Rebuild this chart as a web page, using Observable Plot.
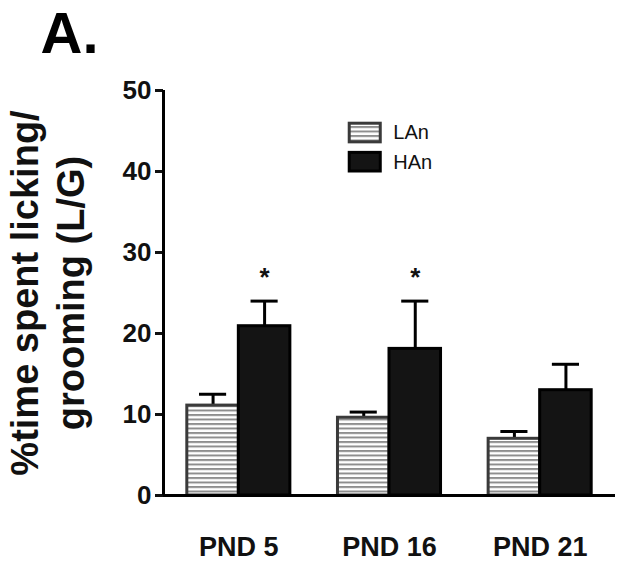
<!DOCTYPE html>
<html>
<head>
<meta charset="utf-8">
<script src="https://cdn.jsdelivr.net/npm/d3@7"></script>
<script src="https://cdn.jsdelivr.net/npm/@observablehq/plot@0.6"></script>
<style>
  html, body { margin: 0; padding: 0; background: #fff; }
</style>
</head>
<body>
<div id="chart"></div>
<script>
// ---- data ----
const groups = ["PND 5", "PND 16", "PND 21"];
const series = ["LAn", "HAn"];
const lanMean = [11.1, 9.6, 7.0];
const lanSE = [1.4, 0.7, 0.9];
const hanMean = [20.9, 18.1, 13.0];
const hanSE = [3.1, 5.9, 3.2];
const significant = [true, true, false];
const yTicks = [0, 10, 20, 30, 40, 50];
const yLabel = "%time spent licking/\ngrooming (L/G)";
const panelLabel = "A.";

// ---- build table ----
const HW = 0.342;     // bar width in group units
const CAP = 0.09;     // half cap width
const rows = [];
groups.forEach((g, i) => {
  rows.push({group: g, i, series: "LAn", mean: lanMean[i], se: lanSE[i], x1: i - HW, x2: i, sig: false});
  rows.push({group: g, i, series: "HAn", mean: hanMean[i], se: hanSE[i], x1: i, x2: i + HW, sig: significant[i]});
});
rows.forEach(d => { d.xc = (d.x1 + d.x2) / 2; d.top = d.mean + d.se; });

const legendRows = series.map((s, k) => ({series: s, k}));
const legendY = k => 44.75 - k * 3.6;

const font = "'Liberation Sans', Arial, Helvetica, sans-serif";
const fillOf = s => s === "LAn" ? "url(#lan-stripes)" : "#141414";
const strokeOf = s => s === "LAn" ? "#3a3a3a" : "#000";

const svg = Plot.plot({
  width: 624,
  height: 567,
  marginTop: 90,
  marginBottom: 72,
  marginLeft: 163,
  marginRight: 9,
  style: {fontFamily: font, background: "#fff", color: "#111"},
  x: {domain: [-0.5, 2.5], axis: null},
  y: {domain: [0, 50], axis: null},
  marks: [
    Plot.axisY(yTicks, {tickSize: 8, tickPadding: 4, fontSize: 26, fontWeight: "bold", strokeWidth: 3, label: null}),
    Plot.axisX(groups.map((_, i) => i), {tickSize: 0, tickPadding: 41, tickFormat: i => groups[i], fontSize: 27, fontWeight: "bold", label: null}),
    // error bars
    Plot.ruleX(rows, {x: "xc", y1: "mean", y2: "top", stroke: "#000", strokeWidth: 3}),
    Plot.ruleY(rows, {y: "top", x1: d => d.xc - CAP, x2: d => d.xc + CAP, stroke: "#000", strokeWidth: 3}),
    // bars
    Plot.rect(rows, {x1: "x1", x2: "x2", y1: 0, y2: "mean", fill: d => fillOf(d.series), stroke: d => strokeOf(d.series), strokeWidth: 3}),
    // significance
    Plot.text(rows.filter(d => d.sig), {x: "xc", y: "top", text: () => "*", dy: -23, fontSize: 26, fontWeight: "bold", fill: "#111"}),
    // axis lines
    Plot.ruleX([-0.5], {y1: 0, y2: 50, stroke: "#000", strokeWidth: 3}),
    Plot.ruleY([0], {x1: -0.5, x2: 2.5, stroke: "#000", strokeWidth: 3}),
    // legend
    Plot.rect(legendRows, {x1: 0.736, x2: 0.942, y1: d => legendY(d.k) - 1.15, y2: d => legendY(d.k) + 1.15, fill: d => fillOf(d.series), stroke: d => strokeOf(d.series), strokeWidth: 3}),
    Plot.text(legendRows, {x: 1.025, y: d => legendY(d.k), text: "series", textAnchor: "start", fontSize: 20, fill: "#111"}),
    // y label
    Plot.text([yLabel], {frameAnchor: "left", textAnchor: "middle", rotate: -90, dx: -117, fontSize: 38, fontWeight: "bold", lineHeight: 1.2, fill: "#111"}),
    // panel label
    Plot.text([panelLabel], {frameAnchor: "top-left", dx: -123, dy: -38, lineAnchor: "bottom", textAnchor: "start", fontSize: 58, fontWeight: "bold", fill: "#000"})
  ]
});

// striped pattern for LAn bars
const ns = "http://www.w3.org/2000/svg";
const defs = document.createElementNS(ns, "defs");
const pat = document.createElementNS(ns, "pattern");
pat.setAttribute("id", "lan-stripes");
pat.setAttribute("patternUnits", "userSpaceOnUse");
pat.setAttribute("width", "10");
pat.setAttribute("height", "4.5");
const bg = document.createElementNS(ns, "rect");
bg.setAttribute("width", "10"); bg.setAttribute("height", "4.5"); bg.setAttribute("fill", "#ffffff");
const ln = document.createElementNS(ns, "rect");
ln.setAttribute("width", "10"); ln.setAttribute("height", "2"); ln.setAttribute("fill", "#8e8e8e");
pat.appendChild(bg); pat.appendChild(ln);
defs.appendChild(pat);
svg.insertBefore(defs, svg.firstChild);

document.getElementById("chart").appendChild(svg);
</script>
</body>
</html>
